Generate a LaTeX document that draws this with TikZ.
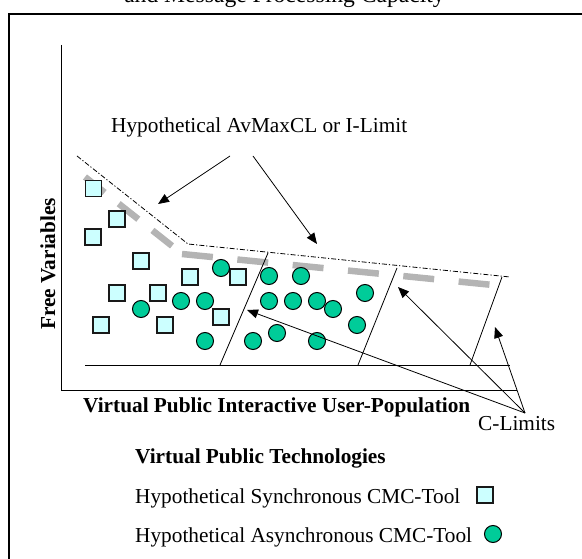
\documentclass[tikz,border=0pt]{standalone}
\usepackage{fontspec}
\setmainfont{Liberation Serif}
\usetikzlibrary{arrows.meta}
\definecolor{sqfill}{HTML}{CCFFFF}
\definecolor{cifill}{HTML}{00CC99}
\definecolor{dashgray}{HTML}{B4B4B4}
\begin{document}
\begin{tikzpicture}[x=1pt,y=-1pt,
  sqr/.style={draw=black!90, fill=sqfill, minimum size=16pt, inner sep=0pt, line width=1.2pt},
  crc/.style={circle, draw=black, fill=cifill, minimum size=17pt, inner sep=0pt, line width=1pt},
  thinline/.style={line width=0.8pt},
  arr/.style={line width=0.8pt, -{Triangle[length=11pt,width=9pt]}},
  lbl/.style={inner sep=0pt, font=\fontsize{21.3}{25}\selectfont},
  blbl/.style={inner sep=0pt, font=\fontsize{21.3}{25}\selectfont\bfseries},
  graydash/.style={draw=dashgray, line width=6.5pt}
]
\path[use as bounding box] (0,0) rectangle (582,559);
\clip (0,0) rectangle (582,559);
% frame
\draw[line width=2pt] (9,640) -- (9,14) -- (640,14);
% title (cut off at top, as in the reference)
\node[inner sep=0pt, anchor=base, font=\fontsize{23.6}{28}\selectfont] (title) at (284.5,3) {and Message Processing Capacity};
% axes
\coordinate (origin) at (61,390);
\coordinate (ytop) at (61,45);
\coordinate (xend) at (517,390);
\draw[thinline] (ytop) -- (origin) -- (xend);
\coordinate (b0) at (85,365);
\coordinate (b1) at (510,365);
\draw[thinline] (b0) -- (b1);
% hypothetical limit (dash-dot)
\coordinate (l0) at (77,156);
\coordinate (l1) at (188,244);
\coordinate (l2) at (510,277);
\draw[line width=0.8pt, dash pattern=on 5pt off 2pt on 1.2pt off 2pt] (l0) -- (l1) -- (l2);
% gray thick dashed line
\coordinate (g0) at (85,177);
\coordinate (g1) at (181,253);
\coordinate (g2) at (182,254);
\coordinate (g3) at (493,285);
\draw[graydash, dash pattern=on 25pt off 18pt] (g0) -- (g1);
\draw[graydash, dash pattern=on 31pt off 24.6pt] (g2) -- (g3);
% C-limit lines
\coordinate (c1b) at (220,365); \coordinate (c1t) at (268,253);
\coordinate (c2b) at (358,365); \coordinate (c2t) at (397,268);
\coordinate (c3b) at (470,365); \coordinate (c3t) at (502,277);
\draw[thinline] (c1b) -- (c1t);
\draw[thinline] (c2b) -- (c2t);
\draw[thinline] (c3b) -- (c3t);
% squares
\node[sqr] (s1) at (93.5,188.5) {};
\node[sqr] (s2) at (117,219) {};
\node[sqr] (s3) at (93,237) {};
\node[sqr] (s4) at (141,261) {};
\node[sqr] (s5) at (190,277) {};
\node[sqr] (s6) at (238,277) {};
\node[sqr] (s7) at (117,293) {};
\node[sqr] (s8) at (158,293) {};
\node[sqr] (s9) at (221,317) {};
\node[sqr] (s10) at (101,325) {};
\node[sqr] (s11) at (165,325) {};
% circles
\node[crc] (k1) at (221,268) {};
\node[crc] (k2) at (269,276) {};
\node[crc] (k3) at (301,276) {};
\node[crc] (k4) at (141,309) {};
\node[crc] (k5) at (181,301) {};
\node[crc] (k6) at (205,301) {};
\node[crc] (k7) at (269,301) {};
\node[crc] (k8) at (293,301) {};
\node[crc] (k9) at (317,301) {};
\node[crc] (k10) at (333,309) {};
\node[crc] (k11) at (365,293) {};
\node[crc] (k12) at (357,325) {};
\node[crc] (k13) at (205,341) {};
\node[crc] (k14) at (253,341) {};
\node[crc] (k15) at (277,333) {};
\node[crc] (k16) at (317,341) {};
% labels
\node[lbl, anchor=base west] (hyp) at (111,133) {Hypothetical AvMaxCL or I-Limit};
\coordinate (h1) at (230,156); \coordinate (h1t) at (158,204);
\coordinate (h2) at (253,156); \coordinate (h2t) at (317,244);
\draw[arr] (h1) -- (h1t);
\draw[arr] (h2) -- (h2t);
\node[blbl, anchor=base west, rotate=90] (fv) at (55,330) {Free Variables};
\node[blbl, anchor=base west] (xlab) at (83,412) {Virtual Public Interactive User-Population};
\node[lbl, anchor=base west] (climits) at (478,431) {C-Limits};
\coordinate (cl) at (525,413);
\coordinate (t1) at (247,310);
\coordinate (t2) at (398,287);
\coordinate (t3) at (495,327);
\draw[arr] (cl) -- (t1);
\draw[arr] (cl) -- (t2);
\draw[arr] (cl) -- (t3);
% legend
\node[blbl, anchor=base west] (legt) at (135,463) {Virtual Public Technologies};
\node[lbl, anchor=base west] (leg1) at (135,503) {Hypothetical Synchronous CMC-Tool};
\node[sqr] (legs) at (485,495) {};
\node[lbl, anchor=base west] (leg2) at (135,542) {Hypothetical Asynchronous CMC-Tool};
\node[crc] (legc) at (493,534) {};
\end{tikzpicture}
\end{document}
